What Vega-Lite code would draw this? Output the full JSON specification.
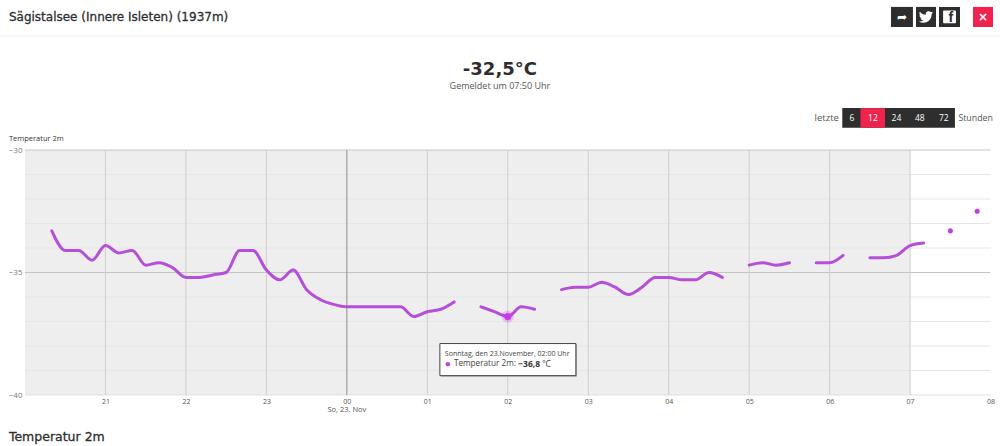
{
"$schema":"https://vega.github.io/schema/vega-lite/v6.json",
"width":968,"height":245,
"autosize":{"type":"none"},
"padding":{"left":25,"top":150,"right":7,"bottom":51},
"background":"#ffffff",
"config":{"view":{"stroke":null},"text":{"font":"Open Sans"}},
"data":{"values":[{"item":"annotation"}]},
"datasets":{
"temps":[
{"hour":-3.667,"temperature":-33.3,"segment":1},{"hour":-3.5,"temperature":-34.1,"segment":1},{"hour":-3.333,"temperature":-34.1,"segment":1},{"hour":-3.167,"temperature":-34.5,"segment":1},{"hour":-3,"temperature":-33.9,"segment":1},{"hour":-2.833,"temperature":-34.2,"segment":1},{"hour":-2.667,"temperature":-34.1,"segment":1},{"hour":-2.5,"temperature":-34.7,"segment":1},{"hour":-2.333,"temperature":-34.6,"segment":1},{"hour":-2.167,"temperature":-34.8,"segment":1},{"hour":-2,"temperature":-35.2,"segment":1},{"hour":-1.833,"temperature":-35.2,"segment":1},{"hour":-1.667,"temperature":-35.1,"segment":1},{"hour":-1.5,"temperature":-35.0,"segment":1},{"hour":-1.333,"temperature":-34.1,"segment":1},{"hour":-1.167,"temperature":-34.1,"segment":1},{"hour":-1,"temperature":-34.9,"segment":1},{"hour":-0.833,"temperature":-35.3,"segment":1},{"hour":-0.667,"temperature":-34.9,"segment":1},{"hour":-0.5,"temperature":-35.7,"segment":1},{"hour":-0.333,"temperature":-36.1,"segment":1},{"hour":-0.167,"temperature":-36.3,"segment":1},{"hour":0,"temperature":-36.4,"segment":1},{"hour":0.167,"temperature":-36.4,"segment":1},{"hour":0.333,"temperature":-36.4,"segment":1},{"hour":0.667,"temperature":-36.4,"segment":1},{"hour":0.833,"temperature":-36.8,"segment":1},{"hour":1,"temperature":-36.6,"segment":1},{"hour":1.167,"temperature":-36.5,"segment":1},{"hour":1.333,"temperature":-36.2,"segment":1},
{"hour":1.667,"temperature":-36.4,"segment":2},{"hour":1.833,"temperature":-36.6,"segment":2},{"hour":2,"temperature":-36.8,"segment":2},{"hour":2.167,"temperature":-36.4,"segment":2},{"hour":2.333,"temperature":-36.5,"segment":2},
{"hour":2.667,"temperature":-35.7,"segment":3},{"hour":2.833,"temperature":-35.6,"segment":3},{"hour":3,"temperature":-35.6,"segment":3},{"hour":3.167,"temperature":-35.4,"segment":3},{"hour":3.333,"temperature":-35.6,"segment":3},{"hour":3.5,"temperature":-35.9,"segment":3},{"hour":3.667,"temperature":-35.6,"segment":3},{"hour":3.833,"temperature":-35.2,"segment":3},{"hour":4,"temperature":-35.2,"segment":3},{"hour":4.167,"temperature":-35.3,"segment":3},{"hour":4.333,"temperature":-35.3,"segment":3},{"hour":4.5,"temperature":-35.0,"segment":3},{"hour":4.667,"temperature":-35.2,"segment":3},
{"hour":5,"temperature":-34.7,"segment":4},{"hour":5.167,"temperature":-34.6,"segment":4},{"hour":5.333,"temperature":-34.7,"segment":4},{"hour":5.5,"temperature":-34.6,"segment":4},
{"hour":5.833,"temperature":-34.6,"segment":5},{"hour":6,"temperature":-34.6,"segment":5},{"hour":6.167,"temperature":-34.3,"segment":5},
{"hour":6.5,"temperature":-34.4,"segment":6},{"hour":6.667,"temperature":-34.4,"segment":6},{"hour":6.833,"temperature":-34.3,"segment":6},{"hour":7,"temperature":-33.9,"segment":6},{"hour":7.167,"temperature":-33.8,"segment":6},
{"hour":7.5,"temperature":-33.3,"segment":7},{"hour":7.833,"temperature":-32.5,"segment":8}
]},
"layer":[
{"mark":{"type":"rect","color":"#eeeeef"},"encoding":{
 "x":{"datum":-4,"type":"quantitative","scale":{"domain":[-4,8.03],"nice":false,"zero":false},"axis":{"title":null,"values":[-3,-2,-1,0,1,2,3,4,5,6,7,8],"labelExpr":"slice('0'+((datum.value+24)%24),-2)","grid":false,"ticks":false,"domain":false,"labelFontSize":7,"labelColor":"#555555","labelFont":"Open Sans","labelPadding":2,"labelBound":false,"labelFlush":false,"labelOverlap":false}},
 "x2":{"datum":7},
 "y":{"datum":-30,"type":"quantitative","scale":{"domain":[-40,-30],"nice":false,"zero":false},"axis":{"title":null,"values":[-30,-35,-40],"format":"d","grid":false,"ticks":false,"domain":false,"labelFontSize":8,"labelColor":"#777777","labelFont":"Open Sans","labelPadding":3}},
 "y2":{"datum":-40}}},
{"data":{"values":[{"temperature":-31},{"temperature":-32},{"temperature":-33},{"temperature":-34},{"temperature":-36},{"temperature":-37},{"temperature":-38},{"temperature":-39}]},"mark":{"type":"rule","color":"#e6e6e6","strokeWidth":1},"encoding":{"x":{"datum":-4,"type":"quantitative"},"x2":{"datum":8},"y":{"field":"temperature","type":"quantitative"}}},
{"data":{"values":[{"temperature":-40}]},"mark":{"type":"rule","color":"#e0e0e0","strokeWidth":1},"encoding":{"x":{"datum":-4,"type":"quantitative"},"x2":{"datum":8},"y":{"field":"temperature","type":"quantitative"}}},
{"data":{"values":[{"temperature":-30},{"temperature":-35}]},"mark":{"type":"rule","color":"#c4c4c4","strokeWidth":1},"encoding":{"x":{"datum":-4,"type":"quantitative"},"x2":{"datum":8},"y":{"field":"temperature","type":"quantitative"}}},
{"data":{"values":[{"hour":-3},{"hour":-2},{"hour":-1},{"hour":1},{"hour":2},{"hour":3},{"hour":4},{"hour":5},{"hour":6},{"hour":7}]},"mark":{"type":"rule","color":"#cfcfcf","strokeWidth":1},"encoding":{"x":{"field":"hour","type":"quantitative"},"y":{"datum":-30,"type":"quantitative"},"y2":{"datum":-40}}},
{"data":{"values":[{"hour":0}]},"mark":{"type":"rule","color":"#8c8c8c","strokeWidth":1},"encoding":{"x":{"field":"hour","type":"quantitative"},"y":{"datum":-30,"type":"quantitative"},"y2":{"datum":-40}}},
{"data":{"name":"temps"},"mark":{"type":"line","color":"#b54fd8","strokeWidth":3,"interpolate":"monotone","strokeCap":"round"},"encoding":{"x":{"field":"hour","type":"quantitative"},"y":{"field":"temperature","type":"quantitative"},"detail":{"field":"segment"}}},
{"data":{"name":"temps"},"transform":[{"filter":"datum.segment>=7"}],"mark":{"type":"point","filled":true,"color":"#c93ae8","size":26,"opacity":1},"encoding":{"x":{"field":"hour","type":"quantitative"},"y":{"field":"temperature","type":"quantitative"}}},
{"data":{"name":"temps"},"transform":[{"filter":"datum.hour===2"}],"mark":{"type":"point","filled":true,"color":"#c93ae8","size":150,"opacity":0.25},"encoding":{"x":{"field":"hour","type":"quantitative"},"y":{"field":"temperature","type":"quantitative"}}},
{"data":{"name":"temps"},"transform":[{"filter":"datum.hour===2"}],"mark":{"type":"point","filled":true,"color":"#c93ae8","size":52,"opacity":1},"encoding":{"x":{"field":"hour","type":"quantitative"},"y":{"field":"temperature","type":"quantitative"}}},

{"mark":{"type":"rect","color":"#b0b0b0"},"encoding":{"x":{"datum":1.168,"type":"quantitative"},"x2":{"datum":2.86},"y":{"datum":-37.93,"type":"quantitative"},"y2":{"datum":-39.26}}},
{"mark":{"type":"rect","fill":"#ffffff","stroke":"#444444","strokeWidth":1},"encoding":{"x":{"datum":1.156,"type":"quantitative"},"x2":{"datum":2.846},"y":{"datum":-37.9,"type":"quantitative"},"y2":{"datum":-39.21}}},
{"mark":{"type":"text","align":"left","baseline":"middle","fontSize":7,"color":"#444444"},"encoding":{"text":{"value":"Sonntag, den 23.November, 02:00 Uhr"},"x":{"datum":1.218,"type":"quantitative"},"y":{"datum":-38.33,"type":"quantitative"}}},
{"mark":{"type":"point","filled":true,"color":"#c93ae8","size":20,"opacity":1},"encoding":{"x":{"datum":1.255,"type":"quantitative"},"y":{"datum":-38.74,"type":"quantitative"}}},
{"mark":{"type":"text","align":"left","baseline":"middle","fontSize":8.2,"color":"#444444"},"encoding":{"text":{"value":"Temperatur 2m:"},"x":{"datum":1.33,"type":"quantitative"},"y":{"datum":-38.72,"type":"quantitative"}}},
{"mark":{"type":"text","align":"left","baseline":"middle","fontSize":8.5,"fontWeight":"bold","color":"#333333"},"encoding":{"text":{"value":"−36,8"},"x":{"datum":2.13,"type":"quantitative"},"y":{"datum":-38.72,"type":"quantitative"}}},
{"mark":{"type":"text","align":"left","baseline":"middle","fontSize":8.5,"color":"#444444"},"encoding":{"text":{"value":"°C"},"x":{"datum":2.424,"type":"quantitative"},"y":{"datum":-38.72,"type":"quantitative"}}},

{"mark":{"type":"text","align":"left","baseline":"middle","fontSize":12,"font":"DejaVu Sans","fontWeight":"normal","color":"#2e2e2e","stroke":"#2e2e2e","strokeWidth":0.3},"encoding":{"text":{"value":"Sägistalsee (Innere Isleten) (1937m)"},"x":{"datum":-4.2,"type":"quantitative"},"y":{"datum":-24.57,"type":"quantitative"}}},
{"mark":{"type":"rule","color":"#eeeeee","strokeWidth":1},"encoding":{"x":{"datum":-4.313,"type":"quantitative"},"x2":{"datum":8.117},"y":{"datum":-25.35,"type":"quantitative"}}},
{"mark":{"type":"rect","color":"#2e2e2e"},"encoding":{"x":{"datum":6.762,"type":"quantitative"},"x2":{"datum":7.035},"y":{"datum":-24.16,"type":"quantitative"},"y2":{"datum":-24.98}}},
{"mark":{"type":"rect","color":"#2e2e2e"},"encoding":{"x":{"datum":7.073,"type":"quantitative"},"x2":{"datum":7.322},"y":{"datum":-24.16,"type":"quantitative"},"y2":{"datum":-24.98}}},
{"mark":{"type":"rect","color":"#2e2e2e"},"encoding":{"x":{"datum":7.359,"type":"quantitative"},"x2":{"datum":7.62},"y":{"datum":-24.16,"type":"quantitative"},"y2":{"datum":-24.98}}},
{"mark":{"type":"rect","color":"#f0234f"},"encoding":{"x":{"datum":7.781,"type":"quantitative"},"x2":{"datum":8.03},"y":{"datum":-24.16,"type":"quantitative"},"y2":{"datum":-24.98}}},
{"mark":{"type":"text","align":"center","baseline":"middle","fontSize":12,"font":"DejaVu Sans","fontWeight":"bold","color":"#ffffff"},"encoding":{"text":{"value":"➦"},"x":{"datum":6.898,"type":"quantitative"},"y":{"datum":-24.57,"type":"quantitative"}}},
{"mark":{"type":"point","filled":true,"opacity":1,"color":"#ffffff","size":1.4,"shape":"M11.95 -7.43 a10 10 0 0 1 -2.82 .77 a4.96 4.96 0 0 0 2.16 -2.72 c-.95 .55 -2 .96 -3.12 1.19 a4.92 4.92 0 0 0 -8.38 4.48 C-4.31 -3.9 -7.93 -5.87 -10.36 -8.84 a4.82 4.82 0 0 0 -.66 2.47 c0 1.71 .87 3.21 2.19 4.1 a4.9 4.9 0 0 1 -2.23 -.61 v.06 a4.92 4.92 0 0 0 3.95 4.83 a4.9 4.9 0 0 1 -2.21 .08 a4.94 4.94 0 0 0 4.6 3.42 A9.87 9.87 0 0 1 -12 7.54 a14 14 0 0 0 7.56 2.21 c9.05 0 14 -7.5 14 -14 c0 -.21 0 -.42 -.02 -.63 A9.94 9.94 0 0 0 12 -7.41 z"},"encoding":{"x":{"datum":7.197,"type":"quantitative"},"y":{"datum":-24.57,"type":"quantitative"}}},
{"mark":{"type":"rect","color":"#ffffff","cornerRadius":1},"encoding":{"x":{"datum":7.41,"type":"quantitative"},"x2":{"datum":7.57},"y":{"datum":-24.31,"type":"quantitative"},"y2":{"datum":-24.83}}},
{"mark":{"type":"text","align":"center","baseline":"middle","fontSize":14,"font":"Liberation Sans","fontWeight":"bold","color":"#2e2e2e"},"encoding":{"text":{"value":"f"},"x":{"datum":7.505,"type":"quantitative"},"y":{"datum":-24.62,"type":"quantitative"}}},
{"mark":{"type":"text","align":"center","baseline":"middle","fontSize":12,"font":"DejaVu Sans","fontWeight":"bold","color":"#ffffff"},"encoding":{"text":{"value":"×"},"x":{"datum":7.905,"type":"quantitative"},"y":{"datum":-24.57,"type":"quantitative"}}},

{"mark":{"type":"text","align":"center","baseline":"middle","fontSize":18,"font":"DejaVu Sans","fontWeight":"bold","color":"#2e2e2e"},"encoding":{"text":{"value":"-32,5°C"},"x":{"datum":1.902,"type":"quantitative"},"y":{"datum":-26.72,"type":"quantitative"}}},
{"mark":{"type":"text","align":"center","baseline":"middle","fontSize":9,"color":"#555555"},"encoding":{"text":{"value":"Gemeldet um 07:50 Uhr"},"x":{"datum":1.902,"type":"quantitative"},"y":{"datum":-27.4,"type":"quantitative"}}},

{"mark":{"type":"text","align":"right","baseline":"middle","fontSize":9.5,"color":"#555555"},"encoding":{"text":{"value":"letzte"},"x":{"datum":6.115,"type":"quantitative"},"y":{"datum":-28.7,"type":"quantitative"}}},
{"mark":{"type":"rect","color":"#2e2e2e"},"encoding":{"x":{"datum":6.157,"type":"quantitative"},"x2":{"datum":7.557},"y":{"datum":-28.29,"type":"quantitative"},"y2":{"datum":-29.09}}},
{"mark":{"type":"rect","color":"#f0234f"},"encoding":{"x":{"datum":6.383,"type":"quantitative"},"x2":{"datum":6.688},"y":{"datum":-28.29,"type":"quantitative"},"y2":{"datum":-29.09}}},
{"mark":{"type":"text","align":"center","baseline":"middle","fontSize":8.5,"color":"#ffffff"},"encoding":{"text":{"value":"6"},"x":{"datum":6.277,"type":"quantitative"},"y":{"datum":-28.7,"type":"quantitative"}}},
{"mark":{"type":"text","align":"center","baseline":"middle","fontSize":8.5,"color":"#ffffff"},"encoding":{"text":{"value":"12"},"x":{"datum":6.538,"type":"quantitative"},"y":{"datum":-28.7,"type":"quantitative"}}},
{"mark":{"type":"text","align":"center","baseline":"middle","fontSize":8.5,"color":"#ffffff"},"encoding":{"text":{"value":"24"},"x":{"datum":6.83,"type":"quantitative"},"y":{"datum":-28.7,"type":"quantitative"}}},
{"mark":{"type":"text","align":"center","baseline":"middle","fontSize":8.5,"color":"#ffffff"},"encoding":{"text":{"value":"48"},"x":{"datum":7.12,"type":"quantitative"},"y":{"datum":-28.7,"type":"quantitative"}}},
{"mark":{"type":"text","align":"center","baseline":"middle","fontSize":8.5,"color":"#ffffff"},"encoding":{"text":{"value":"72"},"x":{"datum":7.418,"type":"quantitative"},"y":{"datum":-28.7,"type":"quantitative"}}},
{"mark":{"type":"text","align":"left","baseline":"middle","fontSize":8.8,"color":"#555555"},"encoding":{"text":{"value":"Stunden"},"x":{"datum":7.6,"type":"quantitative"},"y":{"datum":-28.7,"type":"quantitative"}}},

{"mark":{"type":"text","align":"left","baseline":"middle","fontSize":7.5,"color":"#333333"},"encoding":{"text":{"value":"Temperatur 2m"},"x":{"datum":-4.2,"type":"quantitative"},"y":{"datum":-29.55,"type":"quantitative"}}},
{"mark":{"type":"text","align":"center","baseline":"middle","fontSize":7.5,"color":"#555555"},"encoding":{"text":{"value":"So, 23. Nov"},"x":{"datum":0,"type":"quantitative"},"y":{"datum":-40.62,"type":"quantitative"}}},
{"mark":{"type":"text","align":"left","baseline":"middle","fontSize":12.5,"font":"DejaVu Sans","color":"#2e2e2e","stroke":"#2e2e2e","strokeWidth":0.3},"encoding":{"text":{"value":"Temperatur 2m"},"x":{"datum":-4.2,"type":"quantitative"},"y":{"datum":-41.72,"type":"quantitative"}}}
]
}
